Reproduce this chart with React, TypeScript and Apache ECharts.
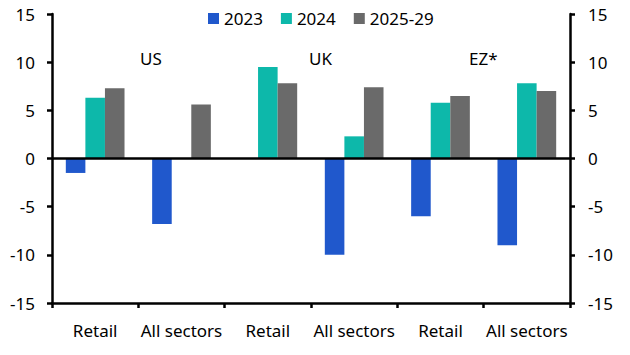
import React, { useEffect, useRef } from "react";
import * as echarts from "echarts";

const categories = ["Retail", "All sectors", "Retail", "All sectors", "Retail", "All sectors"];
const regionLabels = ["US", "UK", "EZ*"];
const s2023: (number | null)[] = [-1.5, -6.8, null, -10.0, -6.0, -9.0];
const s2024: (number | null)[] = [6.3, null, 9.5, 2.3, 5.8, 7.8];
const s2025: (number | null)[] = [7.3, 5.6, 7.8, 7.4, 6.5, 7.0];
const yTicks = [-15, -10, -5, 0, 5, 10, 15];

const FONT = "Noto Sans";

export default function App() {
  const ref = useRef<HTMLDivElement>(null);
  useEffect(() => {
    if (!ref.current) return;
    const chart = echarts.init(ref.current, null, { renderer: "svg" });
    const axisLabel = { color: "#000", fontSize: 17, fontFamily: FONT };
    const yAxisCommon = {
      type: "value" as const,
      min: yTicks[0],
      max: yTicks[yTicks.length - 1],
      interval: 5,
      splitLine: { show: false },
      axisLine: { show: true, lineStyle: { color: "#000", width: 2.5 } },
      axisTick: { show: true, length: 5, lineStyle: { color: "#000", width: 2.5 } },
    };
    const barCommon = { type: "bar" as const, barGap: "0%", barCategoryGap: "32%" };
    chart.setOption({
      animation: false,
      grid: { left: 52, right: 60, top: 14, bottom: 52 },
      legend: {
        top: 5,
        left: 203,
        itemWidth: 11,
        itemHeight: 11,
        itemGap: 18,
        icon: "rect",
        textStyle: { color: "#000", fontSize: 17, fontFamily: FONT },
        data: ["2023", "2024", "2025-29"],
      },
      xAxis: {
        type: "category",
        data: categories,
        axisLine: { onZero: false, lineStyle: { color: "#000", width: 2.5 } },
        axisTick: { show: true, length: 5, lineStyle: { color: "#000", width: 2.5 } },
        axisLabel: { ...axisLabel, margin: 19, interval: 0 },
      },
      yAxis: [
        { ...yAxisCommon, position: "left", axisLabel: { ...axisLabel, margin: 17 } },
        { ...yAxisCommon, position: "right", axisLabel: { ...axisLabel, margin: 18 } },
      ],
      graphic: regionLabels.map((t, i) => ({
        type: "text",
        left: [140, 309, 469][i],
        top: 50,
        style: { text: t, fontSize: 17, fontFamily: FONT, fill: "#000" },
      })),
      series: [
        {
          ...barCommon,
          name: "2023",
          data: s2023,
          itemStyle: { color: "#2058CC" },
          markLine: {
            silent: true,
            symbol: "none",
            label: { show: false },
            lineStyle: { color: "#000", width: 2.5, type: "solid" },
            data: [{ yAxis: 0 }],
          },
        },
        { ...barCommon, name: "2024", data: s2024, itemStyle: { color: "#0DB8AA" } },
        { ...barCommon, name: "2025-29", data: s2025, itemStyle: { color: "#6A6A6A" } },
      ],
    });
    return () => chart.dispose();
  }, []);
  return <div ref={ref} style={{ width: 630, height: 355, position: "absolute", left: 0, top: 0 }} />;
}
